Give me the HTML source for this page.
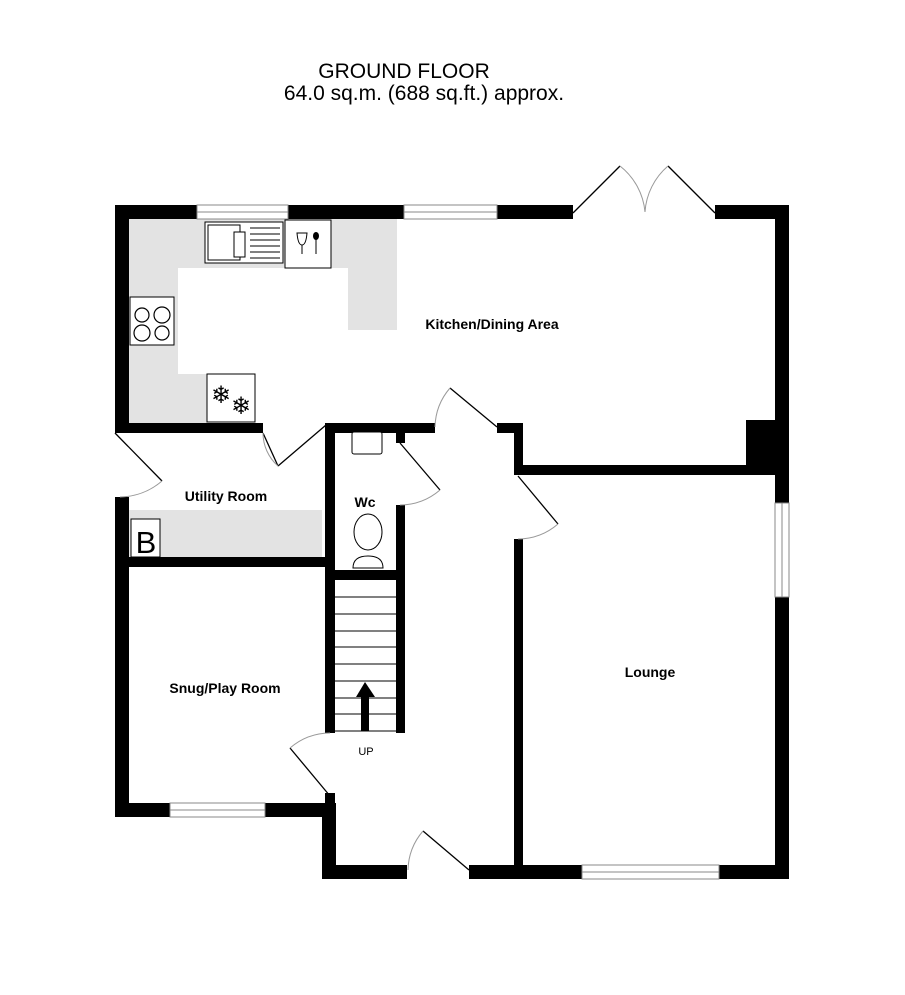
<!DOCTYPE html>
<html><head><style>
html,body{margin:0;padding:0;background:#fff;}
svg{display:block;}
text{font-family:"Liberation Sans",Arial,sans-serif;}
</style></head><body>
<svg width="905" height="995" viewBox="0 0 905 995" xmlns="http://www.w3.org/2000/svg">
<text x="404" y="78" font-size="21" text-anchor="middle">GROUND FLOOR</text>
<text x="424" y="100" font-size="21" text-anchor="middle">64.0 sq.m. (688 sq.ft.) approx.</text>

<g fill="#e3e3e3">
<rect x="129" y="219" width="268" height="49"/>
<rect x="348" y="219" width="49" height="111"/>
<rect x="129" y="219" width="49" height="204"/>
<rect x="129" y="374" width="78" height="49"/>
<rect x="129" y="510" width="193" height="47"/>
</g>

<g fill="#000">
<rect x="115" y="205" width="82" height="14"/>
<rect x="288" y="205" width="116" height="14"/>
<rect x="497" y="205" width="76" height="14"/>
<rect x="715" y="205" width="74" height="14"/>
<rect x="775" y="205" width="14" height="298"/>
<rect x="775" y="597" width="14" height="282"/>
<rect x="115" y="205" width="14" height="228"/>
<rect x="115" y="497" width="14" height="320"/>
<rect x="115" y="803" width="55" height="14"/>
<rect x="265" y="803" width="71" height="14"/>
<rect x="322" y="803" width="14" height="76"/>
<rect x="322" y="865" width="85" height="14"/>
<rect x="469" y="865" width="113" height="14"/>
<rect x="719" y="865" width="70" height="14"/>
<rect x="115" y="423" width="148" height="10"/>
<rect x="325" y="423" width="110" height="10"/>
<rect x="325" y="423" width="10" height="310"/>
<rect x="497" y="423" width="26" height="10"/>
<rect x="514" y="423" width="9" height="52"/>
<rect x="514" y="465" width="261" height="10"/>
<rect x="746" y="420" width="29" height="55"/>
<rect x="514" y="539" width="9" height="326"/>
<rect x="396" y="423" width="9" height="20"/>
<rect x="396" y="505" width="9" height="228"/>
<rect x="325" y="570" width="80" height="10"/>
<rect x="115" y="557" width="210" height="10"/>
<rect x="325" y="793" width="10" height="12"/>
</g>

<g fill="#fff" stroke="#888" stroke-width="1">
<rect x="197" y="205" width="91" height="14"/>
<rect x="404" y="205" width="93" height="14"/>
<rect x="170" y="803" width="95" height="14"/>
<rect x="582" y="865" width="137" height="14"/>
<rect x="775" y="503" width="14" height="94"/>
</g>
<g stroke="#888" stroke-width="1">
<line x1="197" y1="212" x2="288" y2="212"/>
<line x1="404" y1="212" x2="497" y2="212"/>
<line x1="170" y1="810" x2="265" y2="810"/>
<line x1="582" y1="872" x2="719" y2="872"/>
<line x1="782" y1="503" x2="782" y2="597"/>
</g>

<g stroke="#000" stroke-width="1.3" fill="none">
<line x1="573" y1="213" x2="620" y2="166"/>
<line x1="715" y1="213" x2="668" y2="166"/>
<line x1="115" y1="433" x2="162" y2="481"/>
<line x1="263" y1="433" x2="278" y2="466"/>
<line x1="278" y1="466" x2="326" y2="425"/>
<line x1="497" y1="427" x2="450" y2="388"/>
<line x1="400" y1="443" x2="440" y2="490"/>
<line x1="518" y1="476" x2="558" y2="524"/>
<line x1="330" y1="796" x2="290" y2="748"/>
<line x1="469" y1="870" x2="423" y2="831"/>
</g>
<g stroke="#999" stroke-width="1" fill="none">
<path d="M620 166 A66 66 0 0 1 645 212"/>
<path d="M668 166 A66 66 0 0 0 645 212"/>
<path d="M162 481 A66 66 0 0 1 120 497"/>
<path d="M263 433 A44 44 0 0 0 278 466"/>
<path d="M450 388 A62 62 0 0 0 435 427"/>
<path d="M440 490 A62 62 0 0 1 400 505"/>
<path d="M558 524 A62 62 0 0 1 518 539"/>
<path d="M290 748 A62 62 0 0 1 330 733"/>
<path d="M423 831 A62 62 0 0 0 408 870"/>
</g>

<g stroke="#000" stroke-width="1">
<line x1="335" y1="597" x2="396" y2="597"/>
<line x1="335" y1="614" x2="396" y2="614"/>
<line x1="335" y1="631" x2="396" y2="631"/>
<line x1="335" y1="647" x2="396" y2="647"/>
<line x1="335" y1="664" x2="396" y2="664"/>
<line x1="335" y1="681" x2="396" y2="681"/>
<line x1="335" y1="698" x2="396" y2="698"/>
<line x1="335" y1="714" x2="396" y2="714"/>
<line x1="335" y1="731" x2="396" y2="731"/>
</g>
<rect x="361" y="695" width="8" height="36" fill="#000"/>
<polygon points="356,697 365,682 375,697" fill="#000"/>
<text x="366" y="755" font-size="11" text-anchor="middle">UP</text>

<g stroke="#000" stroke-width="1" fill="#fff">
<rect x="205" y="222" width="78" height="41"/>
<rect x="208" y="225" width="32" height="35"/>
<rect x="234" y="232" width="11" height="25"/>
<rect x="285" y="220" width="46" height="48"/>
<rect x="130" y="297" width="44" height="48"/>
<rect x="207" y="374" width="48" height="48"/>
<rect x="352" y="432" width="30" height="22" rx="2"/>
<ellipse cx="368" cy="532" rx="14" ry="18"/>
<path d="M353 568 Q353 556 368 556 Q383 556 383 568 Z"/>
<rect x="131" y="519" width="29" height="38"/>
</g>
<g stroke="#000" stroke-width="1">
<line x1="250" y1="228" x2="280" y2="228"/><line x1="250" y1="234" x2="280" y2="234"/>
<line x1="250" y1="240" x2="280" y2="240"/><line x1="250" y1="246" x2="280" y2="246"/>
<line x1="250" y1="252" x2="280" y2="252"/><line x1="250" y1="258" x2="280" y2="258"/>
<line x1="316" y1="235" x2="316" y2="254"/>
<line x1="302" y1="245" x2="302" y2="254"/>
</g>
<ellipse cx="316" cy="236" rx="3" ry="4" fill="#000"/>
<path d="M297 233 L307 233 Q306 245 302 245 Q298 245 297 233Z" fill="none" stroke="#000"/>
<g fill="none" stroke="#000" stroke-width="1.2">
<circle cx="142" cy="315" r="7"/><circle cx="162" cy="315" r="8"/>
<circle cx="142" cy="333" r="8"/><circle cx="162" cy="333" r="7"/>
</g>
<text x="221" y="403" font-size="24" text-anchor="middle">❄</text>
<text x="241" y="414" font-size="24" text-anchor="middle">❄</text>
<text x="146" y="553" font-size="31" text-anchor="middle">B</text>

<g font-size="14" font-weight="bold" text-anchor="middle">
<text x="492" y="329">Kitchen/Dining Area</text>
<text x="226" y="501">Utility Room</text>
<text x="365" y="507">Wc</text>
<text x="225" y="693">Snug/Play Room</text>
<text x="650" y="677">Lounge</text>
</g>
</svg>
</body></html>
